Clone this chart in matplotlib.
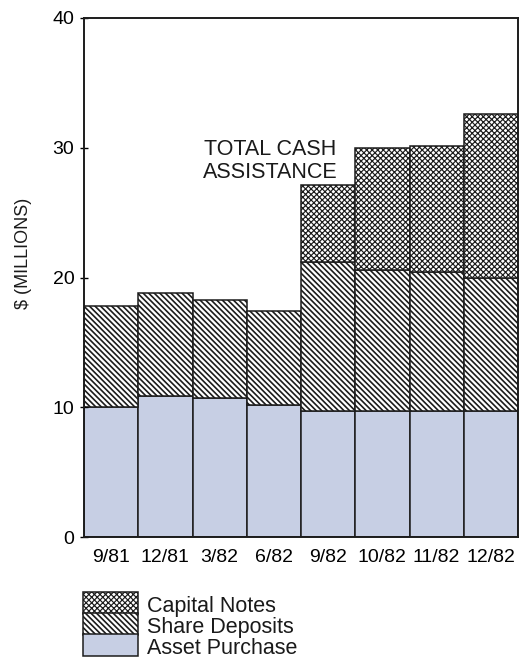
import matplotlib
matplotlib.use("Agg")
import matplotlib.pyplot as plt
from matplotlib.patches import Rectangle
import numpy as np

# Quarterly/monthly cash assistance, $ millions
periods = ["9/81", "12/81", "3/82", "6/82", "9/82", "10/82", "11/82", "12/82"]
asset_purchase = [10.0, 10.9, 10.7, 10.2, 9.7, 9.7, 9.7, 9.7]
share_deposits = [7.8, 7.9, 7.6, 7.2, 11.5, 10.9, 10.7, 10.3]
capital_notes = [0.0, 0.0, 0.0, 0.0, 5.9, 9.4, 9.7, 12.6]
y_ticks = [0, 10, 20, 30, 40]

ASSET_COLOR = "#c7cfe4"
EDGE = "#1c1c1c"
STRIPES = "\\" * 6
CROSS = "x" * 6

plt.rcParams["font.family"] = ["Liberation Sans", "DejaVu Sans"]
plt.rcParams["hatch.linewidth"] = 1.2

W, H = 519, 672
fig = plt.figure(figsize=(W / 100, H / 100), dpi=100)


def fx(px):
    return px / W


def fy(py):
    return 1 - py / H


def thin_hatch(patches, lw):
    for p in patches:
        if hasattr(p, "set_hatch_linewidth"):
            p.set_hatch_linewidth(lw)


ax = fig.add_axes([fx(84), fy(537), fx(518) - fx(84), fy(18) - fy(537)])

x = np.arange(len(periods))
asset = np.array(asset_purchase)
share = np.array(share_deposits)
cap = np.array(capital_notes)

ax.bar(x, asset, width=1.0, color=ASSET_COLOR, edgecolor=EDGE, linewidth=1.1)
ax.bar(x, share, width=1.0, bottom=asset, color="white", edgecolor=EDGE,
       linewidth=1.1, hatch=STRIPES)
has_cap = cap > 0
cap_bars = ax.bar(x[has_cap], cap[has_cap], width=1.0,
                  bottom=(asset + share)[has_cap], color="white",
                  edgecolor=EDGE, linewidth=1.1, hatch=CROSS)
thin_hatch(cap_bars, 0.85)

ax.set_xlim(-0.5, len(periods) - 0.5)
ax.set_ylim(0, 40)
ax.set_yticks(y_ticks)
ax.set_xticks(x)
ax.set_xticklabels(periods)
ax.tick_params(axis="x", length=0, pad=9, labelsize=14)
ax.tick_params(axis="y", direction="inout", length=6, width=1.0, pad=4,
               labelsize=14)
for side in ("left", "top", "right", "bottom"):
    ax.spines[side].set_linewidth(1.4)
    ax.spines[side].set_color(EDGE)

ax.text(0.4286, 0.724, "TOTAL CASH\nASSISTANCE", transform=ax.transAxes,
        ha="center", va="center", fontsize=15.5, linespacing=1.15,
        color="#1a1a1a")

fig.text(fx(24), fy(253), "$ (MILLIONS)", rotation=90, ha="center",
         va="center", fontsize=13, color="#1a1a1a")

# Legend: stacked swatches with labels
legend_items = [
    ("Capital Notes", dict(facecolor="white", hatch=CROSS), 0.85),
    ("Share Deposits", dict(facecolor="white", hatch=STRIPES), None),
    ("Asset Purchase", dict(facecolor=ASSET_COLOR), None),
]
box_left, box_right = 83, 138
row_tops = [592, 613, 634]
row_h = 21.5
for (label, style, hlw), top in zip(legend_items, row_tops):
    rect = Rectangle((fx(box_left), fy(top + row_h)),
                     fx(box_right) - fx(box_left),
                     fy(top) - fy(top + row_h),
                     transform=fig.transFigure, edgecolor=EDGE,
                     linewidth=1.1, **style)
    if hlw is not None:
        thin_hatch([rect], hlw)
    fig.add_artist(rect)
    fig.text(fx(147), fy(top + row_h / 2 + 4), label, ha="left",
             va="center", fontsize=15.5, color="#1a1a1a")

fig.savefig("out.png", dpi=100)
